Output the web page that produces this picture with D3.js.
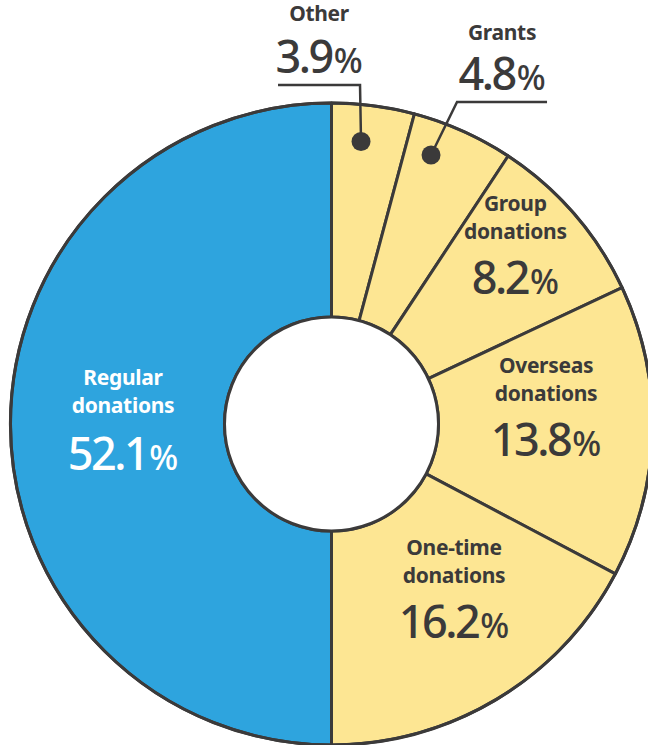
<!DOCTYPE html>
<html>
<head>
<meta charset="utf-8">
<script src="https://cdn.jsdelivr.net/npm/d3@7"></script>
<style>
  html, body { margin: 0; padding: 0; background: #ffffff; }
  svg { display: block; }
  text { font-family: "Noto Sans", "Open Sans", sans-serif; }
</style>
</head>
<body>
<svg id="chart" width="648" height="745"></svg>
<script>
// ---- data ----
const categories = ["Other", "Grants", "Group donations", "Overseas donations", "One-time donations", "Regular donations"];
const values = [3.9, 4.8, 8.2, 13.8, 16.2, 52.1];
const labelNames = [["Other"], ["Grants"], ["Group", "donations"], ["Overseas", "donations"], ["One-time", "donations"], ["Regular", "donations"]];

// ---- layout ----
const W = 648, H = 745;
const cx = 331.5, cy = 424;
const outerR = 321, innerR = 107;
const blue = "#2ea4de", yellow = "#fde693", ink = "#3b3a3a";

const data = categories.map((c, i) => ({ name: c, value: values[i], lines: labelNames[i], index: i }));

const svg = d3.select("#chart");
const g = svg.append("g").attr("transform", `translate(${cx},${cy})`);

// Regular donations fill the left half; the remaining categories share the right half
const rightPie = d3.pie().sort(null).value(d => d.value).startAngle(0).endAngle(Math.PI);
const leftPie = d3.pie().sort(null).value(d => d.value).startAngle(Math.PI).endAngle(2 * Math.PI);
const arcsData = rightPie(data.slice(0, 5)).concat(leftPie(data.slice(5)));

const arc = d3.arc().innerRadius(innerR).outerRadius(outerR);
const color = d => d.data.index === 5 ? blue : yellow;

g.selectAll("path.slice")
  .data(arcsData)
  .join("path")
  .attr("class", "slice")
  .attr("d", arc)
  .attr("fill", color)
  .attr("stroke", ink)
  .attr("stroke-width", 3)
  .attr("stroke-linejoin", "round");

// outer and inner outlines
g.append("circle").attr("r", outerR).attr("fill", "none").attr("stroke", ink).attr("stroke-width", 3);
g.append("circle").attr("r", innerR).attr("fill", "#ffffff").attr("stroke", ink).attr("stroke-width", 3);

// ---- labels inside slices ----
const labelArc = d3.arc().innerRadius(214).outerRadius(214);
const insideNudge = { 2: [22, -45], 3: [0.6, -28], 4: [12, -24], 5: [5.5, -11] };

function numberText(sel, v, fill) {
  const t = sel.append("text")
    .attr("text-anchor", "middle")
    .attr("fill", fill)
    .attr("font-size", 45)
    .attr("font-weight", 500)
    .attr("letter-spacing", -2.5);
  t.append("tspan").text(v.toFixed(1));
  t.append("tspan").attr("font-size", 34).attr("dx", 2).attr("letter-spacing", 0).text("%");
  return t;
}

arcsData.filter(d => d.data.index >= 2).forEach(d => {
  const [x, y] = labelArc.centroid(d);
  const [nx, ny] = insideNudge[d.data.index];
  const fill = d.data.index === 5 ? "#ffffff" : ink;
  const lg = g.append("g").attr("transform", `translate(${x + nx},${y + ny})`);
  lg.append("text").attr("text-anchor", "middle").attr("y", -28)
    .attr("fill", fill).attr("font-size", 21).attr("font-weight", 700).attr("letter-spacing", -0.3)
    .text(d.data.lines[0]);
  lg.append("text").attr("text-anchor", "middle").attr("y", 0)
    .attr("fill", fill).attr("font-size", 21).attr("font-weight", 700).attr("letter-spacing", -0.3)
    .text(d.data.lines[1]);
  numberText(lg, d.data.value, fill).attr("y", d.data.index === 5 ? 57 : 55);
});

// ---- callouts for the two small slices ----
const dotArc = d3.arc().innerRadius(285).outerRadius(285);
const callout = {
  0: { nudge: [-7.6, 0], elbowDx: -1, lineY: 85 - cy, endDx: -82, labelDy: -64 },
  1: { nudge: [-17.2, -9], elbowDx: 26, lineY: 102 - cy, endDx: 90, labelDy: -62 }
};

arcsData.filter(d => d.data.index <= 1).forEach(d => {
  const c = callout[d.data.index];
  const [x0, y0] = dotArc.centroid(d);
  const dx = x0 + c.nudge[0], dy = y0 + c.nudge[1];
  const ex = dx + c.elbowDx, ey = c.lineY;
  const endX = ex + c.endDx;
  g.append("path")
    .attr("d", d3.line()([[dx, dy], [ex, ey], [endX, ey]]))
    .attr("fill", "none").attr("stroke", ink).attr("stroke-width", 2.5);
  g.append("circle").attr("cx", dx).attr("cy", dy).attr("r", 9.5).attr("fill", ink);
  const tx = (ex + endX) / 2;
  g.append("text").attr("x", tx).attr("y", ey + c.labelDy)
    .attr("text-anchor", "middle").attr("fill", ink)
    .attr("font-size", 21).attr("font-weight", 700).attr("letter-spacing", -0.3)
    .text(d.data.lines[0]);
  numberText(g, d.data.value, ink).attr("x", tx).attr("y", ey - 12);
});
</script>
</body>
</html>
